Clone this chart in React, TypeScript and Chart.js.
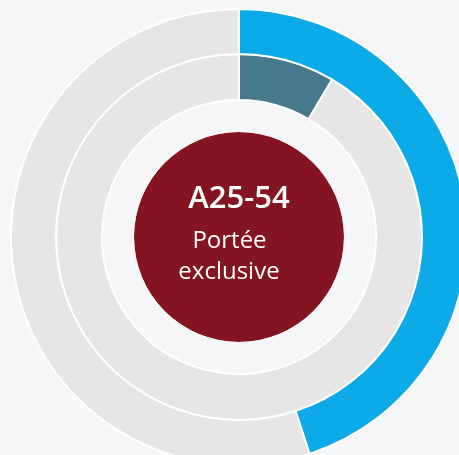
import React, { useEffect, useRef } from "react";
import { Chart, registerables } from "chart.js";

Chart.register(...registerables);

const categories = ["Portée exclusive", "Autres"];
const outerValues = [45, 55];
const middleValues = [8.5, 91.5];
const innerValues = [100];
const coreValues = [100];
const titleLabel = "A25-54";
const subLabels = ["Portée", "exclusive"];

const BG = "#F4F6F7";

export default function App() {
  const ref = useRef<HTMLCanvasElement | null>(null);
  useEffect(() => {
    document.body.style.margin = "0";
    document.body.style.background = BG;
    const centerText = {
      id: "centerText",
      afterDatasetsDraw(chart: any) {
        const { ctx, chartArea } = chart;
        const cx = (chartArea.left + chartArea.right) / 2;
        const cy = (chartArea.top + chartArea.bottom) / 2;
        ctx.save();
        ctx.fillStyle = "#FFFFFF";
        ctx.textAlign = "center";
        ctx.textBaseline = "alphabetic";
        ctx.font = "600 31px 'Open Sans'";
        ctx.fillText(titleLabel, cx, cy - 29);
        ctx.font = "400 24px 'Open Sans'";
        ctx.fillText(subLabels[0], cx - 9.5, cy + 11);
        ctx.fillText(subLabels[1], cx - 10, cy + 42);
        ctx.restore();
      },
    };
    const chart = new Chart(ref.current!, {
      type: "doughnut",
      data: {
        labels: categories,
        datasets: [
          {
            data: outerValues,
            backgroundColor: ["#0CAAE7", "#E6E6E6"],
            borderColor: "#FFFFFF",
            borderWidth: 2,
            weight: 45,
          } as any,
          {
            data: middleValues,
            backgroundColor: ["#46798B", "#E6E6E6"],
            borderColor: "#FFFFFF",
            borderWidth: 2,
            weight: 46,
          } as any,
          {
            data: innerValues,
            backgroundColor: [BG],
            borderWidth: 0,
            weight: 32,
          } as any,
          {
            data: coreValues,
            backgroundColor: ["#84141F"],
            borderWidth: 0,
            weight: 105,
          } as any,
        ],
      },
      options: {
        responsive: false,
        animation: false,
        events: [],
        cutout: 0,
        layout: { padding: { left: 9, right: 9, top: 8, bottom: 8 } },
        plugins: {
          legend: { display: false },
          tooltip: { enabled: false },
        },
      } as any,
      plugins: [centerText],
    });
    return () => chart.destroy();
  }, []);
  return (
    <div
      style={{
        position: "fixed",
        left: 0,
        top: 0,
        width: 459,
        height: 455,
        overflow: "hidden",
        background: BG,
      }}
    >
      <canvas ref={ref} width={478} height={474} style={{ display: "block" }} />
    </div>
  );
}
